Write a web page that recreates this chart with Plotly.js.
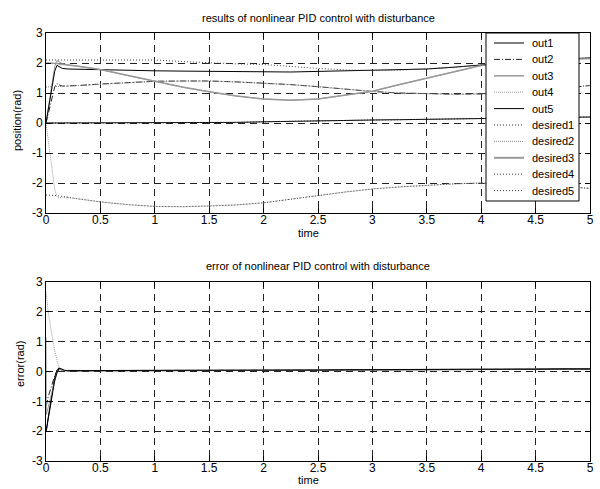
<!DOCTYPE html>
<html>
<head>
<meta charset="utf-8">
<script src="https://cdn.plot.ly/plotly-3.0.1.min.js"></script>
<style>
  html, body { margin: 0; padding: 0; background: #fff; }
  #chart { width: 600px; height: 489px; }
</style>
</head>
<body>
<div id="chart"></div>
<script>
// Simulation time grid for the position traces (s)
const t = [0, 0.02, 0.04, 0.06, 0.08, 0.1, 0.12, 0.15, 0.2, 0.3, 0.5, 0.75, 1, 1.25, 1.5, 1.75,
           2, 2.25, 2.5, 2.75, 3, 3.25, 3.5, 3.75, 4, 4.25, 4.5, 4.75, 5];

// Desired joint positions (rad)
const desired1 = [0, 0, 0, 0, 0, 0, 0, 0, 0, 0, 0, 0, 0, 0, 0, 0.02,
                  0.04, 0.06, 0.08, 0.09, 0.1, 0.11, 0.12, 0.13, 0.14, 0.15, 0.17, 0.18, 0.2];
const desired2 = [1.2, 1.2, 1.2, 1.21, 1.21, 1.21, 1.22, 1.22, 1.23, 1.25, 1.3, 1.35, 1.39, 1.4, 1.4, 1.37,
                  1.33, 1.28, 1.21, 1.13, 1.05, 1.0, 0.97, 0.96, 0.97, 1.0, 1.06, 1.15, 1.25];
const desired3 = [2.0, 2.0, 1.99, 1.99, 1.98, 1.98, 1.97, 1.96, 1.94, 1.89, 1.78, 1.58, 1.38, 1.2, 1.04, 0.9,
                  0.8, 0.76, 0.8, 0.92, 1.06, 1.28, 1.5, 1.72, 1.92, 2.02, 2.08, 2.12, 2.15];
const desired4 = [-2.4, -2.4, -2.4, -2.41, -2.41, -2.42, -2.43, -2.45, -2.48, -2.53, -2.63, -2.72, -2.78, -2.79, -2.77, -2.73,
                  -2.66, -2.55, -2.42, -2.3, -2.2, -2.13, -2.07, -2.03, -2.0, -2.02, -2.06, -2.12, -2.18];
const desired5 = [2.1, 2.1, 2.1, 2.1, 2.1, 2.1, 2.1, 2.1, 2.1, 2.1, 2.1, 2.1, 2.1, 2.05, 2.0, 1.97,
                  1.95, 1.88, 1.82, 1.77, 1.75, 1.76, 1.8, 1.86, 1.93, 2.02, 2.08, 2.13, 2.17];

// Measured joint positions (rad)
const out1 = [0, 0, 0, 0, 0, 0, 0, 0, 0, 0, 0, 0, 0, 0, 0, 0.02,
              0.04, 0.06, 0.08, 0.09, 0.1, 0.11, 0.12, 0.13, 0.14, 0.15, 0.17, 0.18, 0.2];
const out2 = [0, 0.3, 0.62, 0.95, 1.2, 1.32, 1.27, 1.23, 1.23, 1.25, 1.3, 1.35, 1.39, 1.4, 1.4, 1.37,
              1.33, 1.28, 1.21, 1.13, 1.05, 1.0, 0.97, 0.96, 0.97, 1.0, 1.06, 1.15, 1.25];
const out3 = [0, 0.5, 1.0, 1.5, 1.88, 2.08, 2.05, 1.98, 1.94, 1.89, 1.78, 1.58, 1.38, 1.2, 1.04, 0.9,
              0.8, 0.76, 0.8, 0.92, 1.06, 1.28, 1.5, 1.72, 1.92, 2.02, 2.08, 2.12, 2.15];
const out4 = [0, -0.55, -1.2, -1.8, -2.2, -2.45, -2.5, -2.47, -2.48, -2.53, -2.63, -2.72, -2.78, -2.79, -2.77, -2.73,
              -2.66, -2.55, -2.42, -2.3, -2.2, -2.13, -2.07, -2.03, -2.0, -2.02, -2.06, -2.12, -2.18];
const out5 = [0, 0.45, 0.9, 1.35, 1.72, 1.92, 1.88, 1.82, 1.8, 1.79, 1.78, 1.76, 1.74, 1.73, 1.72, 1.71,
              1.7, 1.7, 1.72, 1.74, 1.75, 1.76, 1.8, 1.86, 1.93, 2.02, 2.08, 2.13, 2.17];

// Time grid for the tracking errors (s)
const te = [0, 0.003, 0.02, 0.04, 0.06, 0.08, 0.1, 0.12, 0.14, 0.17, 0.2, 0.3, 0.5, 0.75, 1, 1.25,
            1.5, 1.75, 2, 2.25, 2.5, 2.75, 3, 3.25, 3.5, 3.75, 4, 4.25, 4.5, 4.75, 5];

// Tracking errors (rad)
const err1 = [-2.0, -1.98, -1.55, -1.05, -0.6, -0.2, 0.05, 0.12, 0.08, 0.03, 0.02, 0.02, 0.02, 0.03, 0.03, 0.03,
              0.03, 0.03, 0.04, 0.04, 0.04, 0.05, 0.05, 0.05, 0.06, 0.06, 0.06, 0.07, 0.07, 0.08, 0.08];
const err2 = [-1.15, -1.13, -0.85, -0.6, -0.35, -0.15, 0.0, 0.05, 0.04, 0.03, 0.03, 0.03, 0.03, 0.03, 0.03, 0.04,
              0.04, 0.04, 0.04, 0.05, 0.05, 0.05, 0.06, 0.06, 0.06, 0.07, 0.07, 0.07, 0.08, 0.08, 0.09];
const err3 = [1.15, -1.45, -1.2, -0.9, -0.6, -0.3, -0.05, 0.08, 0.06, 0.04, 0.04, 0.03, 0.03, 0.04, 0.04, 0.04,
              0.05, 0.05, 0.05, 0.05, 0.06, 0.06, 0.06, 0.07, 0.07, 0.07, 0.08, 0.08, 0.09, 0.09, 0.1];
const err4 = [2.67, 2.6, 2.0, 1.5, 1.1, 0.7, 0.35, 0.12, 0.03, 0.02, 0.02, 0.02, 0.02, 0.03, 0.03, 0.03,
              0.04, 0.04, 0.04, 0.05, 0.05, 0.05, 0.06, 0.06, 0.07, 0.07, 0.08, 0.08, 0.09, 0.1, 0.1];
const err5 = [-2.0, -1.97, -1.6, -1.15, -0.7, -0.3, -0.05, 0.1, 0.09, 0.04, 0.03, 0.03, 0.03, 0.03, 0.04, 0.04,
              0.04, 0.04, 0.05, 0.05, 0.05, 0.06, 0.06, 0.06, 0.07, 0.07, 0.07, 0.08, 0.08, 0.09, 0.09];

// Axis ticks
const xTicks = [0, 0.5, 1, 1.5, 2, 2.5, 3, 3.5, 4, 4.5, 5];
const xTickText = ['0', '0.5', '1', '1.5', '2', '2.5', '3', '3.5', '4', '4.5', '5'];
const yTicks = [-3, -2, -1, 0, 1, 2, 3];
const yTickText = ['-3', '-2', '-1', '0', '1', '2', '3'];

const seriesNames = ['out1', 'out2', 'out3', 'out4', 'out5',
                     'desired1', 'desired2', 'desired3', 'desired4', 'desired5'];

// Line styles for each series (grey-scale print style)
const styles = [
  {color: '#000000', width: 1,   dash: 'solid'},
  {color: '#222222', width: 1,   dash: '6px,2px,1px,2px'},
  {color: '#999999', width: 1,   dash: 'solid'},
  {color: '#9a9a9a', width: 1,   dash: '1px,1px'},
  {color: '#000000', width: 1,   dash: 'solid'},
  {color: '#333333', width: 1,   dash: '1px,2px'},
  {color: '#888888', width: 1,   dash: '1px,1px'},
  {color: '#999999', width: 1.5, dash: 'solid'},
  {color: '#444444', width: 1,   dash: '1px,2px'},
  {color: '#444444', width: 1,   dash: '1px,2px'}
];
// Legend sample widths (the legend shows the print weight of each line)
const legendWidths = [1, 1, 1.5, 1, 1, 1, 1, 2, 1, 1];

const positionSeries = [out1, out2, out3, out4, out5, desired1, desired2, desired3, desired4, desired5];
const errorSeries = [err1, err2, err3, err4, err5];

const FONT = 'Liberation Sans, Arial, sans-serif';

const traces = [];
positionSeries.forEach((ys, i) => {
  traces.push({
    x: t, y: ys, xaxis: 'x', yaxis: 'y', type: 'scatter', mode: 'lines',
    name: seriesNames[i], showlegend: false, line: styles[i]
  });
});
errorSeries.forEach((ys, i) => {
  traces.push({
    x: te, y: ys, xaxis: 'x2', yaxis: 'y2', type: 'scatter', mode: 'lines',
    name: 'e' + (i + 1), showlegend: false, line: styles[i]
  });
});

function xAxis(anchor) {
  return {
    anchor: anchor, domain: [0, 1], range: [0, 5],
    tickmode: 'array', tickvals: xTicks, ticktext: xTickText,
    ticks: 'inside', ticklen: 5, tickcolor: '#000', mirror: 'ticks',
    ticklabelstandoff: -4,
    showline: true, linecolor: '#000', linewidth: 1,
    showgrid: true, gridcolor: '#222', gridwidth: 1, griddash: '7px,5px',
    zeroline: false, tickfont: {family: FONT, size: 12, color: '#000'}
  };
}
function yAxis(anchor, domain) {
  return {
    anchor: anchor, domain: domain, range: [-3, 3],
    tickmode: 'array', tickvals: yTicks, ticktext: yTickText,
    ticks: 'inside', ticklen: 5, tickcolor: '#000', mirror: 'ticks',
    showline: true, linecolor: '#000', linewidth: 1,
    showgrid: true, gridcolor: '#222', gridwidth: 1, griddash: '7px,5px',
    zeroline: false, tickfont: {family: FONT, size: 12, color: '#000'}
  };
}

// Plot area: 46..590 px horizontally, 33..461 px vertically
const PX = p => (p - 46) / 544;
const PY = p => (461 - p) / 428;

const annotations = [
  {text: 'results of nonlinear PID control with disturbance', x: 0.5, y: PY(18)},
  {text: 'error of nonlinear PID control with disturbance', x: 0.5, y: PY(266)},
  {text: 'time', x: PX(308), y: PY(233)},
  {text: 'time', x: PX(308), y: PY(480)},
  {text: 'position(rad)', x: PX(17), y: PY(121), textangle: -90},
  {text: 'error(rad)', x: PX(20), y: PY(364), textangle: -90}
].map(a => Object.assign({
  xref: 'paper', yref: 'paper', showarrow: false, xanchor: 'center', yanchor: 'middle',
  font: {family: FONT, size: 11, color: '#000'}
}, a));

// Legend box drawn inside the upper axes
const shapes = [{
  type: 'rect', xref: 'paper', yref: 'paper', layer: 'above',
  x0: PX(486), x1: PX(579), y0: PY(201), y1: PY(33),
  fillcolor: '#ffffff', line: {color: '#000', width: 1}
}];
const rowTop = 43, rowStep = 16.4;
seriesNames.forEach((name, i) => {
  const yy = PY(rowTop + i * rowStep);
  shapes.push({
    type: 'line', xref: 'paper', yref: 'paper', layer: 'above',
    x0: PX(494), x1: PX(524), y0: yy, y1: yy,
    line: {color: styles[i].color, width: legendWidths[i], dash: styles[i].dash}
  });
  annotations.push({
    text: name, xref: 'paper', yref: 'paper', x: PX(530), y: yy,
    xanchor: 'left', yanchor: 'middle', showarrow: false,
    font: {family: FONT, size: 11, color: '#000'}
  });
});

const layout = {
  width: 600, height: 489,
  margin: {l: 46, r: 10, t: 33, b: 28, pad: 0},
  paper_bgcolor: '#ffffff', plot_bgcolor: '#ffffff',
  showlegend: false,
  xaxis: xAxis('y'),
  yaxis: yAxis('x', [PY(213), 1]),
  xaxis2: xAxis('y2'),
  yaxis2: yAxis('x2', [0, PY(282)]),
  annotations: annotations,
  shapes: shapes,
  font: {family: FONT, color: '#000'}
};

Plotly.newPlot('chart', traces, layout, {staticPlot: true, displayModeBar: false});
</script>
</body>
</html>
